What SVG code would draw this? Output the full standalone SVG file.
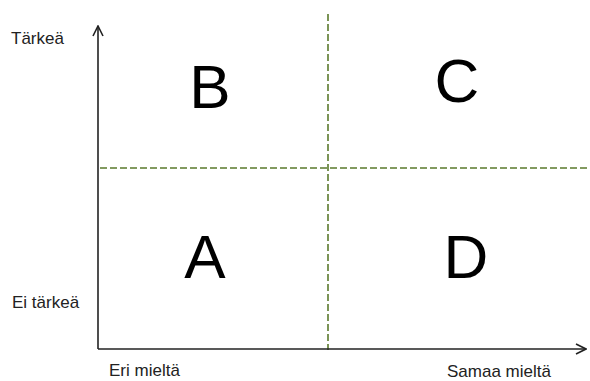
<svg xmlns="http://www.w3.org/2000/svg" width="590" height="381" viewBox="0 0 590 381">
<defs>
<style>
.lbl{font-family:"Liberation Sans",Arial,sans-serif;font-size:17px;fill:#222}
.big{font-family:"Liberation Sans",Arial,sans-serif;font-size:62px;fill:#000;text-anchor:middle}
.axis{stroke:#222;stroke-width:1.6;fill:none}
.dash{stroke:#5a7a2c;stroke-width:1.6;stroke-dasharray:7 3;fill:none}
</style>
<marker id="arr" viewBox="0 0 12 12" refX="11" refY="6" markerWidth="12" markerHeight="12" markerUnits="userSpaceOnUse" orient="auto">
<path d="M1,1 L11,6 L1,11" fill="none" stroke="#222" stroke-width="1.6"/>
</marker>
</defs>
<rect width="590" height="381" fill="#fff"/>
<g id="connectors">
<line class="dash" x1="328" y1="14" x2="328" y2="350"/>
<line class="dash" x1="100" y1="168" x2="590" y2="168"/>
<line class="axis" x1="98" y1="349" x2="98" y2="26" marker-end="url(#arr)"/>
<line class="axis" x1="98" y1="349" x2="586" y2="349" marker-end="url(#arr)"/>
</g>
<g id="nodeB"><text class="big" x="210" y="108">B</text></g>
<g id="nodeC"><text class="big" x="457" y="102">C</text></g>
<g id="nodeA"><text class="big" x="205" y="278">A</text></g>
<g id="nodeD"><text class="big" x="466" y="278">D</text></g>
<g id="labels">
<text class="lbl" x="11" y="44">Tärkeä</text>
<text class="lbl" x="12" y="308">Ei tärkeä</text>
<text class="lbl" x="109" y="376">Eri mieltä</text>
<text class="lbl" x="447" y="377">Samaa mieltä</text>
</g>
</svg>
